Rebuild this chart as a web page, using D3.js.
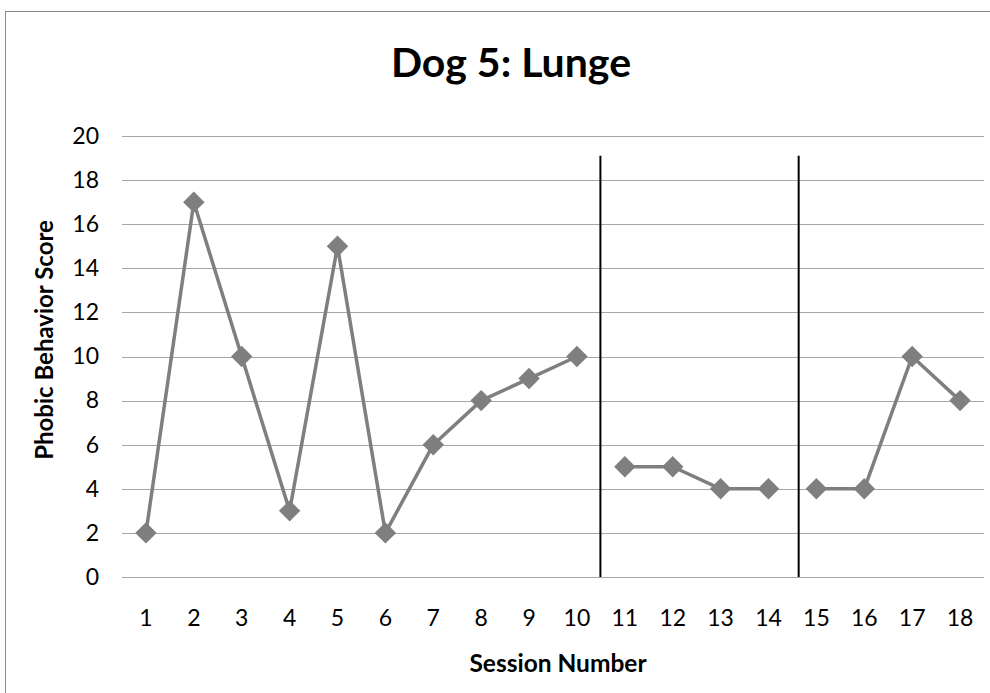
<!DOCTYPE html>
<html>
<head>
<meta charset="utf-8">
<script src="https://cdn.jsdelivr.net/npm/d3@7"></script>
<style>
  body { margin: 0; background: #fff; }
  svg { display: block; font-family: Lato, "Open Sans", sans-serif; }
</style>
</head>
<body>
<div id="chart"></div>
<script>
"use strict";
// data
var sessions = [1, 2, 3, 4, 5, 6, 7, 8, 9, 10, 11, 12, 13, 14, 15, 16, 17, 18];
var scores = [2, 17, 10, 3, 15, 2, 6, 8, 9, 10, 5, 5, 4, 4, 4, 4, 10, 8];
var phaseStarts = [1, 11, 15];          // first session of each phase
var phaseLines = [10.49, 14.63];        // where the phase change lines sit (in sessions)
var phaseLineTop = 19.1;
var yTicks = [0, 2, 4, 6, 8, 10, 12, 14, 16, 18, 20];

var width = 990, height = 693;
var plot = { left: 122, right: 984, top: 136, bottom: 577 };

var svg = d3.select("#chart").append("svg")
    .attr("width", width)
    .attr("height", height);

// outer chart frame
svg.append("rect")
    .attr("x", 5.5).attr("y", 11.5)
    .attr("width", 1000).attr("height", 700)
    .attr("fill", "none")
    .attr("stroke", "#8c8c8c")
    .attr("stroke-width", 1);

var x = d3.scaleBand()
    .domain(sessions)
    .range([plot.left, plot.right]);
var y = d3.scaleLinear()
    .domain([0, 20])
    .range([plot.bottom, plot.top]);
// continuous session position, used for phase lines
var xs = d3.scaleLinear()
    .domain([1, 18])
    .range([x(1) + x.bandwidth() / 2, x(18) + x.bandwidth() / 2]);

// gridlines
svg.append("g")
    .attr("transform", "translate(" + plot.left + ",0)")
    .call(d3.axisLeft(y).tickValues(yTicks).tickSize(-(plot.right - plot.left)).tickFormat(""))
    .call(function (g) {
        g.select(".domain").remove();
        g.selectAll("line").attr("stroke", "#a6a6a6").attr("stroke-width", 1)
            .attr("shape-rendering", "crispEdges");
    });

// y tick labels
svg.append("g")
    .attr("transform", "translate(" + plot.left + ",0)")
    .call(d3.axisLeft(y).tickValues(yTicks).tickSize(0).tickPadding(23))
    .call(function (g) {
        g.select(".domain").remove();
        g.selectAll("text").attr("font-size", 23).attr("fill", "#000")
            .attr("font-family", "Lato, 'Open Sans', sans-serif");
    });

// x tick labels
svg.append("g")
    .attr("transform", "translate(0," + plot.bottom + ")")
    .call(d3.axisBottom(x).tickSize(0).tickPadding(33))
    .call(function (g) {
        g.select(".domain").remove();
        g.selectAll("text").attr("font-size", 23).attr("fill", "#000")
            .attr("font-family", "Lato, 'Open Sans', sans-serif");
    });

// phase change lines
svg.selectAll(".phase")
    .data(phaseLines)
    .enter().append("line")
    .attr("class", "phase")
    .attr("x1", function (d) { return xs(d); })
    .attr("x2", function (d) { return xs(d); })
    .attr("y1", y(phaseLineTop))
    .attr("y2", y(0))
    .attr("stroke", "#000")
    .attr("stroke-width", 2);

// split points into phases
var points = sessions.map(function (s, i) { return { s: s, v: scores[i] }; });
var segments = phaseStarts.map(function (start, i) {
    var end = i + 1 < phaseStarts.length ? phaseStarts[i + 1] : Infinity;
    return points.filter(function (p) { return p.s >= start && p.s < end; });
});

var line = d3.line()
    .x(function (d) { return x(d.s) + x.bandwidth() / 2; })
    .y(function (d) { return y(d.v); });

svg.selectAll(".seg")
    .data(segments)
    .enter().append("path")
    .attr("class", "seg")
    .attr("d", line)
    .attr("fill", "none")
    .attr("stroke", "#7f7f7f")
    .attr("stroke-width", 3.5)
    .attr("stroke-linejoin", "round");

var diamond = d3.symbol().type(d3.symbolSquare).size(230);
svg.selectAll(".pt")
    .data(points)
    .enter().append("path")
    .attr("class", "pt")
    .attr("d", diamond)
    .attr("transform", function (d) {
        return "translate(" + (x(d.s) + x.bandwidth() / 2) + "," + y(d.v) + ") rotate(45)";
    })
    .attr("fill", "#7f7f7f");

// titles
svg.append("text")
    .attr("x", 511)
    .attr("y", 77)
    .attr("text-anchor", "middle")
    .attr("font-size", 41)
    .attr("font-weight", "bold")
    .text("Dog 5: Lunge");

svg.append("text")
    .attr("x", 558)
    .attr("y", 672)
    .attr("text-anchor", "middle")
    .attr("font-size", 24.5)
    .attr("font-weight", "bold")
    .text("Session Number");

svg.append("text")
    .attr("transform", "translate(53,340) rotate(-90)")
    .attr("text-anchor", "middle")
    .attr("font-size", 24)
    .attr("font-weight", "bold")
    .text("Phobic Behavior Score");
</script>
</body>
</html>
